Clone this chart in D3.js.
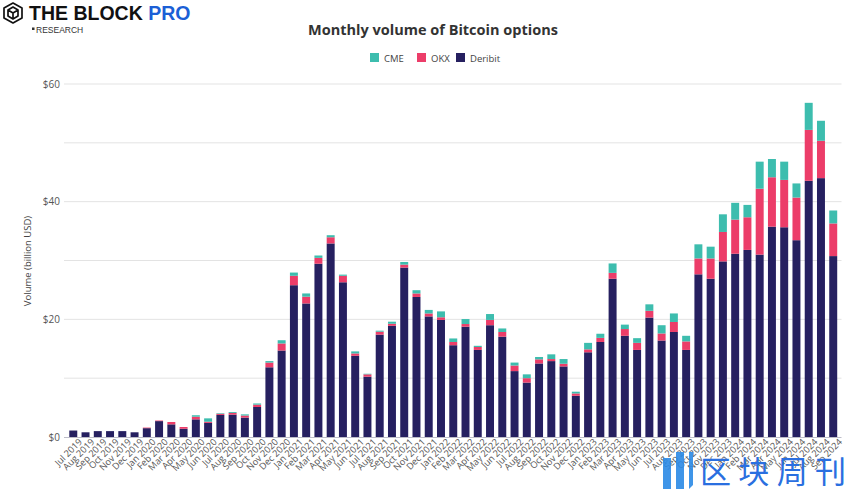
<!DOCTYPE html>
<html>
<head>
<meta charset="utf-8">
<script src="https://cdn.jsdelivr.net/npm/d3@7"></script>
<style>
  html, body { margin: 0; padding: 0; background: #fff; }
  svg { display: block; font-family: "Open Sans", "Noto Sans", sans-serif; }
</style>
</head>
<body>
<svg id="chart" width="865" height="493"></svg>
<script>
const months = ["Jul 2019","Aug 2019","Sep 2019","Oct 2019","Nov 2019","Dec 2019",
  "Jan 2020","Feb 2020","Mar 2020","Apr 2020","May 2020","Jun 2020","Jul 2020","Aug 2020","Sep 2020","Oct 2020","Nov 2020","Dec 2020",
  "Jan 2021","Feb 2021","Mar 2021","Apr 2021","May 2021","Jun 2021","Jul 2021","Aug 2021","Sep 2021","Oct 2021","Nov 2021","Dec 2021",
  "Jan 2022","Feb 2022","Mar 2022","Apr 2022","May 2022","Jun 2022","Jul 2022","Aug 2022","Sep 2022","Oct 2022","Nov 2022","Dec 2022",
  "Jan 2023","Feb 2023","Mar 2023","Apr 2023","May 2023","Jun 2023","Jul 2023","Aug 2023","Sep 2023","Oct 2023","Nov 2023","Dec 2023",
  "Jan 2024","Feb 2024","Mar 2024","Apr 2024","May 2024","Jun 2024","Jul 2024","Aug 2024","Sep 2024"];

const deribit = [1.1,0.8,1.0,1.0,1.0,0.8,
  1.5,2.7,2.15,1.4,3.0,2.4,3.75,3.8,3.3,5.1,11.85,14.7,
  25.8,22.7,29.45,32.9,26.3,13.8,10.25,17.4,18.9,28.8,23.8,20.5,
  19.9,15.6,18.75,14.8,19.0,17.05,11.2,9.25,12.5,12.9,12.0,7.0,
  14.4,16.15,26.9,17.2,14.8,20.3,16.4,17.85,14.8,27.65,26.9,29.85,
  31.15,31.8,31.0,35.75,35.65,33.45,43.55,44.0,30.75];

const okx = [0,0,0,0,0,0,
  0.1,0.1,0.4,0.3,0.45,0.2,0.2,0.3,0.35,0.4,0.8,1.2,
  1.6,1.15,1.0,1.05,1.1,0.4,0.4,0.5,0.35,0.5,0.6,0.5,
  0.45,0.55,0.45,0.5,0.9,0.8,0.95,0.75,0.7,0.35,0.45,0.4,
  0.5,0.7,1.0,1.15,1.2,1.15,1.2,1.7,1.45,2.7,3.45,5.0,
  5.8,5.55,11.2,8.4,8.05,7.25,8.65,6.35,5.55];

const cme = [0,0,0,0,0,0,
  0,0,0,0,0.25,0.57,0.1,0.15,0.2,0.2,0.25,0.55,
  0.55,0.55,0.4,0.35,0.2,0.35,0.1,0.17,0.35,0.45,0.55,0.6,
  1.0,0.6,0.85,0.2,1.0,0.6,0.5,0.65,0.4,0.8,0.8,0.3,
  1.1,0.7,1.6,0.75,0.8,1.1,1.4,1.45,0.95,2.4,2.0,3.0,
  2.85,2.1,4.6,3.1,3.1,2.4,4.6,3.4,2.2];

const seriesNames = ["Deribit","OKX","CME"];
const legendOrder = ["CME","OKX","Deribit"];
const yTicks = [0, 20, 40, 60];
const yGrid = [0, 10, 20, 30, 40, 50, 60];
const colors = { CME: "#3dbdae", OKX: "#ec3d69", Deribit: "#262060" };

const rows = months.map((m, i) => ({ month: m, Deribit: deribit[i], OKX: okx[i], CME: cme[i] }));
const stacked = d3.stack().keys(seriesNames)(rows);

const svg = d3.select("#chart");

const x = d3.scaleBand().domain(months).range([65, 841.5]).paddingInner(0.35).paddingOuter(0.35);
const y = d3.scaleLinear().domain([0, 60]).range([437, 84]);

// gridlines
svg.append("g").selectAll("line").data(yGrid.filter(d => d > 0)).join("line")
  .attr("x1", 64).attr("x2", 841.5)
  .attr("y1", d => y(d)).attr("y2", d => y(d))
  .attr("stroke", "#e3e3e3").attr("stroke-width", 1);

// y axis labels
const yAxis = svg.append("g").attr("transform", "translate(64,0)")
  .call(d3.axisLeft(y).tickValues(yTicks).tickFormat(d => "$" + d).tickSize(0).tickPadding(4));
yAxis.select(".domain").remove();
yAxis.selectAll("text").attr("fill", "#555").attr("font-size", 10)
  .attr("font-family", "'Open Sans', sans-serif");

// y axis title
svg.append("text")
  .attr("transform", "translate(31,261) rotate(-90)")
  .attr("text-anchor", "middle")
  .attr("font-size", 9.5).attr("fill", "#444")
  .text("Volume (billion USD)");

// bars
svg.append("g").selectAll("g").data(stacked).join("g")
  .attr("fill", d => colors[d.key])
  .selectAll("rect").data(d => d).join("rect")
  .attr("x", d => x(d.data.month))
  .attr("width", x.bandwidth())
  .attr("y", d => y(d[1]))
  .attr("height", d => Math.max(0, y(d[0]) - y(d[1])));

// x axis
const xAxis = svg.append("g").attr("transform", "translate(0,437)")
  .call(d3.axisBottom(x).tickSize(0).tickPadding(6));
xAxis.select(".domain").attr("stroke", "#bdbdc8").attr("d", "M64,0.5H841.5");
xAxis.selectAll("text")
  .attr("font-size", 9.2).attr("fill", "#555")
  .attr("font-family", "'Open Sans', sans-serif")
  .attr("text-anchor", "end")
  .attr("dx", "0.3em").attr("dy", "0.5em")
  .attr("transform", "rotate(-45)");

// title
svg.append("text")
  .attr("x", 433).attr("y", 35)
  .attr("text-anchor", "middle")
  .attr("font-size", 14.5).attr("font-weight", "bold").attr("fill", "#333")
  .text("Monthly volume of Bitcoin options");

// legend
const legendX = { CME: 370, OKX: 417, Deribit: 456 };
const lg = svg.append("g").selectAll("g").data(legendOrder).join("g")
  .attr("transform", d => `translate(${legendX[d]},53)`);
lg.append("rect").attr("width", 9).attr("height", 9).attr("fill", d => colors[d]);
lg.append("text").attr("x", 14).attr("y", 8.5).attr("font-size", 9.5).attr("fill", "#444").text(d => d);

// logo
const logo = svg.append("g");
logo.append("path")
  .attr("d", "M13,3 L22,8 L22,18 L13,23 L4,18 L4,8 Z M8,10 L13,13 L18,10 M13,13 L13,19 M8,10 L8,16 L13,19 L18,16 L18,10 L13,7 Z")
  .attr("fill", "none").attr("stroke", "#111").attr("stroke-width", 1.7).attr("stroke-linejoin", "round");
logo.append("text").attr("x", 29).attr("y", 20)
  .attr("font-family", "'Liberation Sans', Arial, sans-serif")
  .attr("font-size", 19.5).attr("font-weight", "bold").attr("fill", "#111")
  .text("THE BLOCK ")
  .append("tspan").attr("fill", "#1b5fd6").text("PRO");
logo.append("rect").attr("x", 32).attr("y", 27.5).attr("width", 2.5).attr("height", 2.5).attr("fill", "#333");
logo.append("text").attr("x", 36).attr("y", 33)
  .attr("font-family", "'Liberation Sans', Arial, sans-serif")
  .attr("font-size", 8.5).attr("fill", "#333").text("RESEARCH");

// watermark
const wm = svg.append("g");
wm.append("path").attr("d", "M663,458 L671,458 L671,489 L663,489 Z M676,452 L684,452 L684,489 L676,489 Z M689,452 L693,452 L693,485 L689,489 Z")
  .attr("fill", "#2a8ae6").attr("opacity", 0.9);
wm.append("text").attr("x", 700).attr("y", 483)
  .attr("font-family", "'Noto Sans CJK SC', sans-serif")
  .attr("font-size", 31).attr("fill", "#2a6fe0")
  .attr("textLength", 146)
  .text("区块周刊");
</script>
</body>
</html>
